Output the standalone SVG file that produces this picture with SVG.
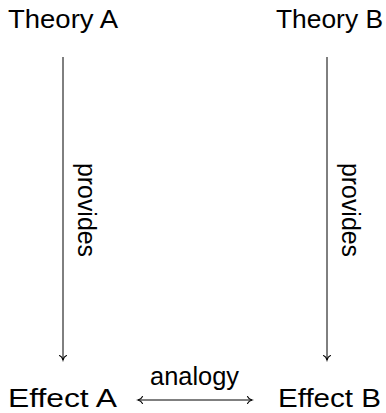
<svg xmlns="http://www.w3.org/2000/svg" width="386" height="413" viewBox="0 0 386 413">
<style>
.lbl{font-family:"Liberation Sans","DejaVu Sans",sans-serif;font-size:26px;fill:#000}
.edge{stroke:#000;stroke-width:1;fill:none}
</style>
<defs>
<marker id="tip" markerUnits="userSpaceOnUse" viewBox="-6 -5 8 10" refX="0" refY="0" markerWidth="8" markerHeight="10" orient="auto-start-reverse">
<path d="M -4.5 -3.5 C -3.5 -1.2, -1.5 -0.4, 0 0 C -1.5 0.4, -3.5 1.2, -4.5 3.5" stroke="#000" stroke-width="1.1" fill="none" stroke-linecap="round"/>
</marker>
</defs>
<rect width="386" height="413" fill="#fff"/>
<g id="theoryA"><text class="lbl" x="8" y="28" textLength="110" lengthAdjust="spacingAndGlyphs">Theory A</text></g>
<g id="theoryB"><text class="lbl" x="276" y="28" textLength="107" lengthAdjust="spacingAndGlyphs">Theory B</text></g>
<g id="effectA"><text class="lbl" x="8" y="407" textLength="109" lengthAdjust="spacingAndGlyphs">Effect A</text></g>
<g id="effectB"><text class="lbl" x="278" y="407" textLength="103" lengthAdjust="spacingAndGlyphs">Effect B</text></g>
<g id="connectors">
<line class="edge" x1="63" y1="57" x2="63" y2="360" marker-end="url(#tip)"/>
<line class="edge" x1="327" y1="57" x2="327" y2="360" marker-end="url(#tip)"/>
<line class="edge" x1="138" y1="400" x2="252" y2="400" marker-start="url(#tip)" marker-end="url(#tip)"/>
<text class="lbl" transform="translate(78,210) rotate(90)" x="0" y="0" text-anchor="middle" textLength="94" lengthAdjust="spacingAndGlyphs">provides</text>
<text class="lbl" transform="translate(342,210) rotate(90)" x="0" y="0" text-anchor="middle" textLength="94" lengthAdjust="spacingAndGlyphs">provides</text>
<text class="lbl" x="150" y="385" textLength="89" lengthAdjust="spacingAndGlyphs">analogy</text>
</g>
</svg>
